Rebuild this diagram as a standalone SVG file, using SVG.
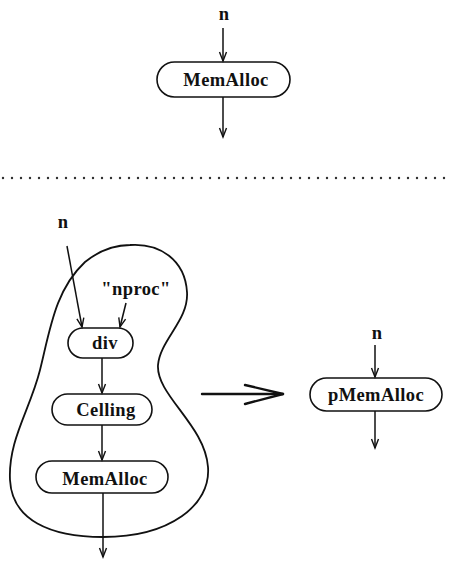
<svg xmlns="http://www.w3.org/2000/svg" width="452" height="561" viewBox="0 0 452 561">
  <style>
    .box { fill: #fff; stroke: #111; stroke-width: 1.6; }
    .lbl { font-family: "Liberation Serif", "Times New Roman", serif; font-weight: bold; font-size: 18.5px; letter-spacing: 0.4px; fill: #111; text-anchor: middle; }
    .edge { fill: none; stroke: #111; stroke-width: 1.5; }
    .blob { fill: none; stroke: #111; stroke-width: 1.8; }
  </style>
  <defs>
    <marker id="arr" viewBox="-10 -5 12 10" refX="0" refY="0" markerWidth="12" markerHeight="10" markerUnits="userSpaceOnUse" orient="auto">
      <path d="M-9,-3.5 L0,0 L-9,3.5" fill="none" stroke="#111" stroke-width="1.4"/>
    </marker>
  </defs>
  <rect width="452" height="561" fill="#fff"/>

  <!-- upper half: single MemAlloc -->
  <g id="top-n"><text class="lbl" x="224" y="20">n</text></g>
  <g id="top-memalloc">
    <rect class="box" x="157" y="62" width="133" height="35" rx="17.5"/>
    <text class="lbl" x="226" y="86">MemAlloc</text>
  </g>

  <!-- separator -->
  <line x1="3" y1="178" x2="450" y2="178" stroke="#333" stroke-width="2.4" stroke-linecap="round" stroke-dasharray="0 9"/>

  <!-- lower left: expanded sub-graph inside a region -->
  <g id="region">
    <path class="blob" d="M130,245 C160,243 185,260 187,292 C189,320 160,340 158,365 C156,395 205,425 208,467 C211,505 170,537 103,537 C50,537 12,520 10,480 C8,440 30,410 40,370 C50,330 55,290 85,262 C100,250 115,245 130,245 Z"/>
  </g>
  <g id="low-n"><text class="lbl" x="63" y="228">n</text></g>
  <g id="nproc"><text class="lbl" x="136" y="295">"nproc"</text></g>
  <g id="div">
    <rect class="box" x="68" y="328" width="65" height="30" rx="15"/>
    <text class="lbl" x="105" y="349">div</text>
  </g>
  <g id="celling">
    <rect class="box" x="52" y="394" width="100" height="31" rx="15.5"/>
    <text class="lbl" x="106" y="416">Celling</text>
  </g>
  <g id="low-memalloc">
    <rect class="box" x="36" y="461" width="132" height="32" rx="16"/>
    <text class="lbl" x="105" y="485">MemAlloc</text>
  </g>

  <!-- lower right: replacement node -->
  <g id="right-n"><text class="lbl" x="377" y="339">n</text></g>
  <g id="pmemalloc">
    <rect class="box" x="310" y="378" width="132" height="33" rx="16.5"/>
    <text class="lbl" x="376" y="401">pMemAlloc</text>
  </g>

  <g id="connectors">
    <line class="edge" x1="223" y1="28" x2="223" y2="61" marker-end="url(#arr)"/>
    <line class="edge" x1="223" y1="97" x2="223" y2="137" marker-end="url(#arr)"/>
    <line class="edge" x1="67" y1="246" x2="82" y2="327" marker-end="url(#arr)"/>
    <line class="edge" x1="126" y1="303" x2="120" y2="327" marker-end="url(#arr)"/>
    <line class="edge" x1="102" y1="358" x2="102" y2="393" marker-end="url(#arr)"/>
    <line class="edge" x1="102" y1="425" x2="102" y2="460" marker-end="url(#arr)"/>
    <line class="edge" x1="103" y1="493" x2="103" y2="557" marker-end="url(#arr)"/>
    <line class="edge" x1="375" y1="345" x2="375" y2="377" marker-end="url(#arr)"/>
    <line class="edge" x1="375" y1="411" x2="375" y2="448" marker-end="url(#arr)"/>
    <!-- transformation arrow -->
    <g fill="none" stroke="#111" stroke-width="2.4" stroke-linecap="round" stroke-linejoin="round">
      <line x1="202" y1="394" x2="283" y2="394"/>
      <path d="M245,385 L283,394 L245,404"/>
    </g>
  </g>
</svg>
